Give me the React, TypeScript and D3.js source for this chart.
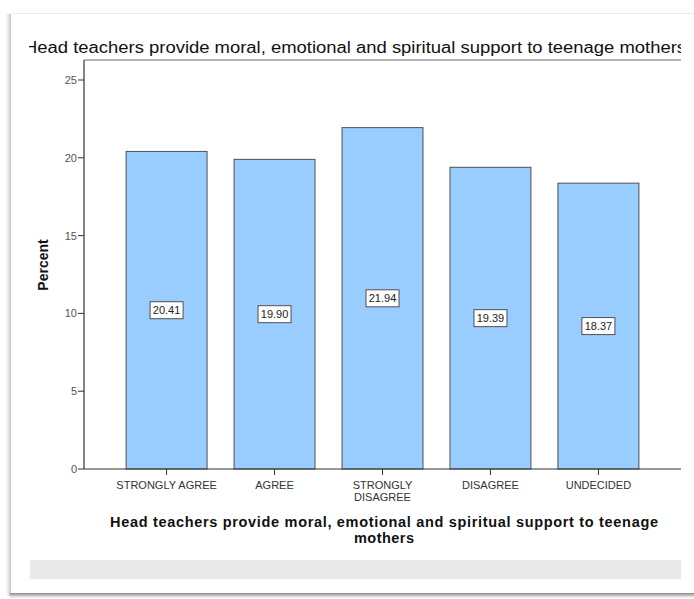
import React from "react";
import * as d3 from "d3";

const categories = ["STRONGLY AGREE", "AGREE", "STRONGLY DISAGREE", "DISAGREE", "UNDECIDED"];
const categoryLines = [["STRONGLY AGREE"], ["AGREE"], ["STRONGLY", "DISAGREE"], ["DISAGREE"], ["UNDECIDED"]];
const percents = [20.41, 19.9, 21.94, 19.39, 18.37];
const yTicks = [0, 5, 10, 15, 20, 25];
const chartTitle = "Head teachers provide moral, emotional and spiritual support to teenage mothers";
const xTitleLines = ["Head teachers provide moral, emotional and spiritual support to teenage", "mothers"];
const yTitle = "Percent";

const W = 694;
const H = 599;
const plot = { left: 84, right: 681, top: 60, bottom: 469 };

export default function App() {
  const x = d3
    .scaleBand<string>()
    .domain(categories)
    .range([plot.left, plot.right])
    .paddingInner(0.25)
    .paddingOuter(0.39);
  const y = d3.scaleLinear().domain([0, 25]).range([plot.bottom, 80]);
  const font = "'Liberation Sans', Arial, sans-serif";

  return (
    <svg
      width={W}
      height={H}
      style={{ position: "absolute", left: 0, top: 0, background: "#fff" }}
      fontFamily={font}
    >
      <defs>
        <clipPath id="titleClip">
          <rect x={29} y={25} width={652} height={35} />
        </clipPath>
        <linearGradient id="shadowBottom" x1="0" y1="0" x2="0" y2="1">
          <stop offset="0" stopColor="#8a8a8a" />
          <stop offset="1" stopColor="#ffffff" />
        </linearGradient>
        <linearGradient id="shadowLeft" x1="1" y1="0" x2="0" y2="0">
          <stop offset="0" stopColor="#c8c8c8" />
          <stop offset="1" stopColor="#ffffff" />
        </linearGradient>
      </defs>

      {/* card frame with soft shadow */}
      <rect x={0} y={0} width={W} height={H} fill="#ffffff" />
      <rect x={6} y={14} width={5} height={582} fill="url(#shadowLeft)" />
      <rect x={10} y={593} width={684} height={5} fill="url(#shadowBottom)" />
      <line x1={11} y1={13.5} x2={694} y2={13.5} stroke="#ececec" />
      <rect x={11} y={14} width={683} height={579} fill="#ffffff" />

      {/* chart title */}
      <text
        clipPath="url(#titleClip)"
        x={355}
        y={53}
        textAnchor="middle"
        fontSize={16}
        fill="#111"
        textLength={662}
        lengthAdjust="spacingAndGlyphs"
      >
        {chartTitle}
      </text>

      {/* frame top line */}
      <line x1={plot.left} y1={plot.top} x2={plot.right} y2={plot.top} stroke="#9a9a9a" strokeWidth={1.5} />

      {/* bars */}
      {percents.map((v, i) => (
        <rect
          key={categories[i]}
          x={x(categories[i])!}
          y={y(v)}
          width={x.bandwidth()}
          height={y(0) - y(v)}
          fill="#99ccff"
          stroke="#505050"
          strokeWidth={1}
        />
      ))}

      {/* value labels */}
      {percents.map((v, i) => {
        const cx = x(categories[i])! + x.bandwidth() / 2;
        const cy = y(v / 2);
        return (
          <g key={"lbl" + i}>
            <rect x={cx - 16.5} y={cy - 8.5} width={33} height={17} fill="#fff" stroke="#505050" strokeWidth={1} />
            <text x={cx} y={cy + 4} textAnchor="middle" fontSize={11} fill="#222">
              {v.toFixed(2)}
            </text>
          </g>
        );
      })}

      {/* y axis */}
      <line x1={plot.left} y1={plot.top} x2={plot.left} y2={plot.bottom} stroke="#333" strokeWidth={1.2} />
      {yTicks.map((t) => (
        <g key={"yt" + t}>
          <line x1={78} y1={y(t)} x2={plot.left} y2={y(t)} stroke="#333" />
          <text x={77} y={y(t) + 4} textAnchor="end" fontSize={11} fill="#555">
            {t}
          </text>
        </g>
      ))}
      <text
        transform={`translate(48,265) rotate(-90)`}
        textAnchor="middle"
        fontSize={14}
        fontWeight="bold"
        fill="#111"
      >
        {yTitle}
      </text>

      {/* x axis */}
      <line x1={plot.left} y1={plot.bottom} x2={plot.right} y2={plot.bottom} stroke="#333" strokeWidth={1.2} />
      {categories.map((c, i) => {
        const cx = x(c)! + x.bandwidth() / 2;
        return (
          <g key={"xt" + c}>
            <line x1={cx} y1={plot.bottom} x2={cx} y2={plot.bottom + 6} stroke="#333" />
            {categoryLines[i].map((ln, j) => (
              <text key={j} x={cx} y={489 + j * 12} textAnchor="middle" fontSize={11} fill="#333">
                {ln}
              </text>
            ))}
          </g>
        );
      })}
      {xTitleLines.map((ln, j) => (
        <text
          key={"xl" + j}
          x={384}
          y={527 + j * 16}
          textAnchor="middle"
          fontSize={14.5}
          fontWeight="bold"
          fill="#111"
          textLength={j === 0 ? 548 : 60}
          lengthAdjust="spacing"
        >
          {ln}
        </text>
      ))}

      {/* footer band */}
      <rect x={30} y={560} width={651} height={19} fill="#e9e9e9" />
    </svg>
  );
}
